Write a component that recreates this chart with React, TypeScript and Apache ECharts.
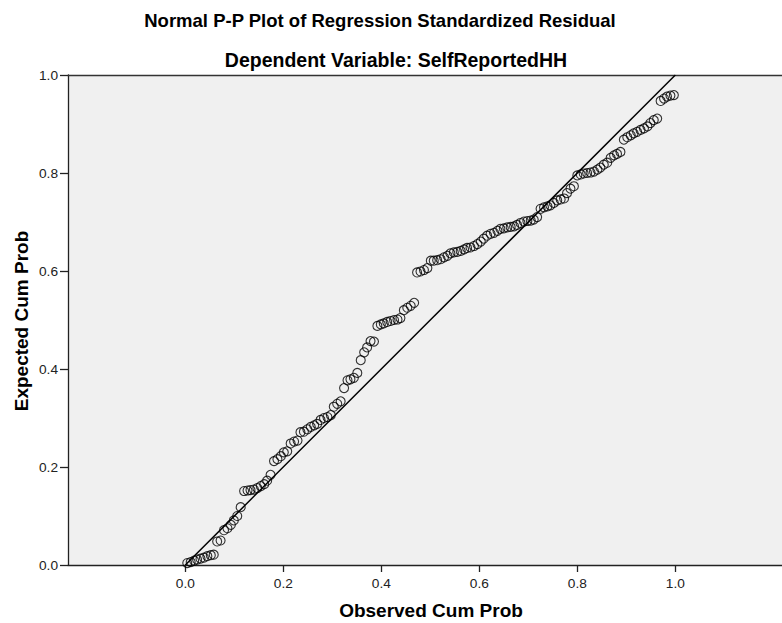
import React, { useEffect, useRef } from "react";
import * as echarts from "echarts";

const titleLine1 = "Normal P-P Plot of Regression Standardized Residual";
const titleLine2 = "Dependent Variable: SelfReportedHH";
const xAxisTitle = "Observed Cum Prob";
const yAxisTitle = "Expected Cum Prob";

const xTickValues = [0, 0.2, 0.4, 0.6, 0.8, 1.0];
const yTickValues = [0, 0.2, 0.4, 0.6, 0.8, 1.0];

// Observed cumulative probability (x) of each residual
const observed = [
  0.004, 0.011, 0.018, 0.024, 0.031, 0.038, 0.045, 0.052, 0.058, 0.065,
  0.072, 0.079, 0.086, 0.093, 0.099, 0.106, 0.113, 0.120, 0.127, 0.133,
  0.140, 0.147, 0.154, 0.161, 0.167, 0.174, 0.181, 0.188, 0.195, 0.201,
  0.208, 0.215, 0.222, 0.229, 0.235, 0.242, 0.249, 0.256, 0.263, 0.269,
  0.276, 0.283, 0.290, 0.297, 0.303, 0.310, 0.317, 0.324, 0.331, 0.337,
  0.344, 0.351, 0.358, 0.365, 0.371, 0.378, 0.385, 0.392, 0.399, 0.405,
  0.412, 0.419, 0.426, 0.433, 0.439, 0.446, 0.453, 0.460, 0.467, 0.473,
  0.480, 0.487, 0.494, 0.501, 0.507, 0.514, 0.521, 0.528, 0.535, 0.541,
  0.548, 0.555, 0.562, 0.569, 0.575, 0.582, 0.589, 0.596, 0.603, 0.609,
  0.616, 0.623, 0.630, 0.637, 0.643, 0.650, 0.657, 0.664, 0.671, 0.677,
  0.684, 0.691, 0.698, 0.705, 0.711, 0.718, 0.725, 0.732, 0.739, 0.745,
  0.752, 0.759, 0.766, 0.773, 0.779, 0.786, 0.793, 0.800, 0.807, 0.813,
  0.820, 0.827, 0.834, 0.841, 0.847, 0.854, 0.861, 0.868, 0.875, 0.881,
  0.888, 0.895, 0.902, 0.909, 0.915, 0.922, 0.929, 0.936, 0.943, 0.949,
  0.956, 0.963, 0.970, 0.977, 0.983, 0.990, 0.997,
];

// Expected cumulative probability (y) of each residual
const expected = [
  0.004, 0.006, 0.009, 0.011, 0.013, 0.015, 0.018, 0.020, 0.021, 0.048,
  0.050, 0.071, 0.075, 0.082, 0.091, 0.100, 0.118, 0.151, 0.152, 0.153,
  0.154, 0.157, 0.161, 0.165, 0.172, 0.184, 0.212, 0.216, 0.222, 0.230,
  0.232, 0.248, 0.252, 0.254, 0.271, 0.272, 0.277, 0.282, 0.285, 0.288,
  0.296, 0.300, 0.302, 0.306, 0.323, 0.329, 0.334, 0.361, 0.377, 0.379,
  0.382, 0.392, 0.418, 0.434, 0.444, 0.457, 0.456, 0.488, 0.491, 0.493,
  0.496, 0.498, 0.500, 0.501, 0.504, 0.520, 0.525, 0.529, 0.535, 0.597,
  0.599, 0.602, 0.606, 0.621, 0.621, 0.622, 0.624, 0.628, 0.631, 0.636,
  0.638, 0.639, 0.641, 0.644, 0.647, 0.648, 0.651, 0.655, 0.660, 0.666,
  0.672, 0.676, 0.678, 0.682, 0.686, 0.687, 0.689, 0.690, 0.691, 0.694,
  0.698, 0.701, 0.702, 0.703, 0.705, 0.710, 0.727, 0.730, 0.732, 0.734,
  0.739, 0.744, 0.746, 0.748, 0.759, 0.768, 0.773, 0.795, 0.797, 0.799,
  0.800, 0.801, 0.803, 0.807, 0.811, 0.817, 0.821, 0.831, 0.836, 0.839,
  0.843, 0.868, 0.873, 0.877, 0.881, 0.884, 0.888, 0.891, 0.895, 0.902,
  0.908, 0.911, 0.947, 0.952, 0.956, 0.958, 0.959,
];

// Reference line of the normal distribution
const diagonal = [
  [0, 0],
  [1, 1],
];

const X_MIN = -0.2394;
const X_MAX = 1.2177;

const FONT = '"Liberation Sans", Arial, Helvetica, sans-serif';

export default function App() {
  const ref = useRef<HTMLDivElement | null>(null);

  useEffect(() => {
    if (!ref.current) return;
    const chart = echarts.init(ref.current, undefined, { renderer: "svg" });
    const points = observed.map((x, i) => [x, expected[i]]);
    const axisColor = "#222";

    chart.setOption({
      animation: false,
      backgroundColor: "#ffffff",
      textStyle: { fontFamily: FONT },
      grid: {
        left: 68,
        top: 75,
        right: 0,
        bottom: 58,
        show: true,
        backgroundColor: "#f0f0f0",
        borderWidth: 0,
      },
      xAxis: [
        {
          type: "value",
          min: X_MIN,
          max: X_MAX,
          position: "bottom",
          axisLine: { show: true, onZero: false, lineStyle: { color: axisColor, width: 1.3 } },
          axisTick: {
            show: true,
            length: 7,
            customValues: xTickValues,
            lineStyle: { color: axisColor, width: 1.3 },
          },
          axisLabel: {
            show: true,
            customValues: xTickValues,
            margin: 11,
            color: "#222",
            fontSize: 13.7,
            fontFamily: FONT,
            formatter: (v: number) => v.toFixed(1),
          },
          splitLine: { show: false },
        },
        {
          type: "value",
          min: X_MIN,
          max: X_MAX,
          position: "top",
          axisLine: { show: true, onZero: false, lineStyle: { color: "#333", width: 1.3 } },
          axisTick: { show: false },
          axisLabel: { show: false },
          splitLine: { show: false },
        },
      ],
      yAxis: {
        type: "value",
        min: 0,
        max: 1,
        interval: 0.2,
        axisLine: { show: true, onZero: false, lineStyle: { color: axisColor, width: 1.3 } },
        axisTick: { show: true, length: 8, lineStyle: { color: axisColor, width: 1.3 } },
        axisLabel: {
          margin: 10,
          color: "#222",
          fontSize: 13.7,
          fontFamily: FONT,
          formatter: (v: number) => v.toFixed(1),
        },
        splitLine: { show: false },
      },
      series: [
        {
          type: "scatter",
          data: points,
          symbol: "circle",
          symbolSize: 9,
          itemStyle: {
            color: "rgba(0,0,0,0)",
            borderColor: "#000",
            borderWidth: 1.1,
          },
          z: 2,
        },
        {
          type: "line",
          data: diagonal,
          symbol: "none",
          lineStyle: { color: "#000", width: 1.5 },
          z: 3,
        },
      ],
      graphic: [
        {
          type: "text",
          x: 380,
          y: 20,
          style: {
            text: titleLine1,
            font: `bold 18.5px ${FONT}`,
            fill: "#000",
            textAlign: "center",
            textVerticalAlign: "middle",
          },
        },
        {
          type: "text",
          x: 396,
          y: 60,
          style: {
            text: titleLine2,
            font: `bold 19.5px ${FONT}`,
            fill: "#000",
            textAlign: "center",
            textVerticalAlign: "middle",
          },
        },
        {
          type: "text",
          x: 431,
          y: 610,
          style: {
            text: xAxisTitle,
            font: `bold 19px ${FONT}`,
            fill: "#000",
            textAlign: "center",
            textVerticalAlign: "middle",
          },
        },
        {
          type: "text",
          x: 21,
          y: 321,
          rotation: Math.PI / 2,
          style: {
            text: yAxisTitle,
            font: `bold 19px ${FONT}`,
            fill: "#000",
            textAlign: "center",
            textVerticalAlign: "middle",
          },
        },
      ],
    });

    return () => {
      chart.dispose();
    };
  }, []);

  return (
    <div
      ref={ref}
      style={{ position: "absolute", left: 0, top: 0, width: 782, height: 623 }}
    />
  );
}
